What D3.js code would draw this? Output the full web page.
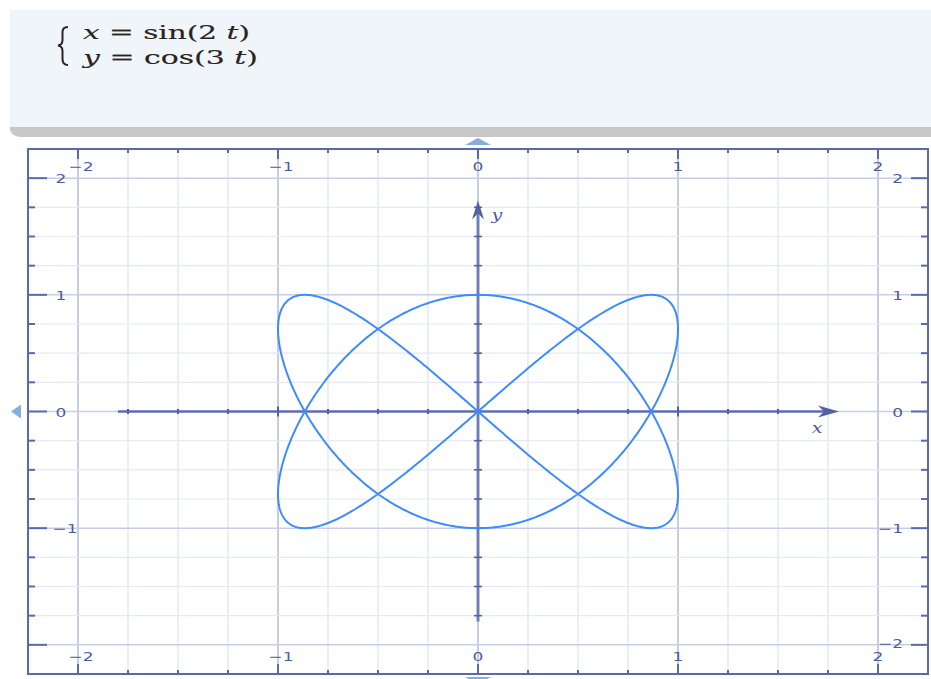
<!DOCTYPE html>
<html>
<head>
<meta charset="utf-8">
<script src="https://cdn.jsdelivr.net/npm/d3@7"></script>
<style>
  html, body { margin: 0; padding: 0; background: #ffffff; }
  svg { display: block; }
</style>
</head>
<body>
<svg id="chart" width="931" height="679"></svg>
<script>
// Parametric curve: x = sin(xFreq t), y = cos(yFreq t)
const xFreq = 2;
const yFreq = 3;
const sampleCount = 1200;

// Axis ranges and tick labels
const xDomain = [-2.25, 2.25];
const yDomain = [-2.25, 2.25];
const majorTicks = [-2, -1, 0, 1, 2];
const tickLabels = ["\u22122", "\u22121", "0", "1", "2"];
const gridStep = 0.25;
const axisExtent = 1.8;

// Display is horizontally stretched, text included
const stretchX = 1.36;

const svg = d3.select("#chart");

// Header panel with the equations
svg.append("rect").attr("x", 10).attr("y", 10).attr("width", 921).attr("height", 120)
  .attr("fill", "#f0f5fa");
svg.append("path")
  .attr("d", "M10,127 L931,127 L931,137 L22,137 Q12,137 10,130 Z")
  .attr("fill", "#c8c8c8");

const eqColor = "#2a2320";
svg.append("path")
  .attr("d", "M68,27 Q62.5,27 62.5,32 L62.5,40 Q62.5,45 58,45.5 Q62.5,46 62.5,51 L62.5,59 Q62.5,65 68,65")
  .attr("fill", "none").attr("stroke", eqColor).attr("stroke-width", 2);

// Each equation line: pieces [text, italic], spread across [left, right]
function equation(baseline, left, right, pieces) {
  const t = svg.append("text")
    .attr("x", left).attr("y", baseline)
    .attr("font-family", "'DejaVu Serif', 'Liberation Serif', serif")
    .attr("font-size", 19)
    .attr("fill", eqColor)
    .attr("stroke", eqColor).attr("stroke-width", 0.15)
    .attr("textLength", right - left)
    .attr("lengthAdjust", "spacingAndGlyphs");
  pieces.forEach(p => t.append("tspan").attr("font-style", p[1] ? "italic" : "normal").text(p[0]));
}
equation(39, 83, 250, [["x", true], [" = sin(" + xFreq + " ", false], ["t", true], [")", false]]);
equation(64, 83, 258, [["y", true], [" = cos(" + yFreq + " ", false], ["t", true], [")", false]]);

// Plot frame
const frame = { left: 28, right: 928, top: 149, bottom: 674 };
const x = d3.scaleLinear().domain(xDomain).range([frame.left, frame.right]);
const y = d3.scaleLinear().domain(yDomain).range([frame.bottom, frame.top]);

const gridVals = d3.range(-2.25, 2.2501, gridStep).map(v => Math.round(v * 100) / 100);
const isMajor = v => Math.abs(v - Math.round(v)) < 1e-9;

const grid = svg.append("g");
grid.selectAll("line.v").data(gridVals.filter(v => v > xDomain[0] && v < xDomain[1]))
  .join("line")
  .attr("x1", d => x(d)).attr("x2", d => x(d))
  .attr("y1", frame.top).attr("y2", frame.bottom)
  .attr("stroke", d => isMajor(d) ? "#c9cde3" : "#e7e9f2")
  .attr("stroke-width", d => isMajor(d) ? 2 : 1.5);
grid.selectAll("line.h").data(gridVals.filter(v => v > yDomain[0] && v < yDomain[1]))
  .join("line")
  .attr("y1", d => y(d)).attr("y2", d => y(d))
  .attr("x1", frame.left).attr("x2", frame.right)
  .attr("stroke", d => isMajor(d) ? "#c9cde3" : "#e7e9f2")
  .attr("stroke-width", d => isMajor(d) ? 1.5 : 1.2);

const frameColor = "#5a69ab";
const labelColor = "#4b5b9e";
const inner = gridVals.filter(v => v > -2.25 && v < 2.25);

// Frame ticks on all four sides
const ticks = svg.append("g").attr("stroke", frameColor).attr("stroke-width", 2);
ticks.selectAll("line.t").data(inner).join("line")
  .attr("x1", d => x(d)).attr("x2", d => x(d))
  .attr("y1", frame.top).attr("y2", d => frame.top + (isMajor(d) ? 10 : 4));
ticks.selectAll("line.b").data(inner).join("line")
  .attr("x1", d => x(d)).attr("x2", d => x(d))
  .attr("y1", frame.bottom).attr("y2", d => frame.bottom - (isMajor(d) ? 10 : 4));
ticks.selectAll("line.l").data(inner).join("line")
  .attr("y1", d => y(d)).attr("y2", d => y(d))
  .attr("x1", frame.left).attr("x2", d => frame.left + (isMajor(d) ? 19 : 7));
ticks.selectAll("line.r").data(inner).join("line")
  .attr("y1", d => y(d)).attr("y2", d => y(d))
  .attr("x1", frame.right).attr("x2", d => frame.right - (isMajor(d) ? 17 : 7));

svg.append("rect")
  .attr("x", frame.left).attr("y", frame.top)
  .attr("width", frame.right - frame.left).attr("height", frame.bottom - frame.top)
  .attr("fill", "none").attr("stroke", frameColor).attr("stroke-width", 2);

// Frame tick labels, stretched like the rest of the display
const labels = svg.append("g")
  .attr("font-family", "'DejaVu Sans', Verdana, sans-serif")
  .attr("font-size", 12.5).attr("fill", labelColor);
function stretchedLabel(px, py, anchor, txt) {
  labels.append("text")
    .attr("transform", `translate(${px},${py}) scale(${stretchX},1)`)
    .attr("text-anchor", anchor).text(txt);
}
majorTicks.forEach((v, i) => {
  const shift = v < 0 ? 3 : 0;
  stretchedLabel(x(v) + shift, frame.top + 22, "middle", tickLabels[i]);
  stretchedLabel(x(v) + shift, frame.bottom - 13, "middle", tickLabels[i]);
  // the bottom-left corner keeps only the bottom-edge label
  if (v > yDomain[0] + 0.5) {
    stretchedLabel(frame.left + 33 + (v < 0 ? 4 : 0), y(v) + 5, "middle", tickLabels[i]);
  }
  stretchedLabel(frame.right - 25, y(v) + (v === majorTicks[0] ? 3 : 5), "end", tickLabels[i]);
});

// Scroll markers around the frame
const marker = "#88aedb";
svg.append("path").attr("fill", marker)
  .attr("d", `M${x(0) - 13},145 L${x(0)},138 L${x(0) + 13},145 Z`);
svg.append("path").attr("fill", marker)
  .attr("d", `M${x(0) - 13},677 L${x(0) + 13},677 L${x(0)},684 Z`);
svg.append("path").attr("fill", marker)
  .attr("d", `M11,${y(0)} L21,${y(0) - 7} L21,${y(0) + 7} Z`);

// Coordinate axes with arrows
const axisColor = "#5262a6";
const axes = svg.append("g");
axes.append("line")
  .attr("x1", x(-axisExtent)).attr("x2", x(axisExtent) - 6)
  .attr("y1", y(0)).attr("y2", y(0))
  .attr("stroke", axisColor).attr("stroke-width", 2.4).attr("stroke-opacity", 0.9);
axes.append("line")
  .attr("x1", x(0)).attr("x2", x(0))
  .attr("y1", y(-axisExtent)).attr("y2", y(axisExtent) + 6)
  .attr("stroke", axisColor).attr("stroke-width", 3).attr("stroke-opacity", 0.75);

const axisTicks = d3.range(-1.75, 1.7501, 0.25).filter(v => Math.abs(v) > 1e-9);
axes.selectAll("line.xt").data(axisTicks).join("line")
  .attr("x1", d => x(d)).attr("x2", d => x(d))
  .attr("y1", d => y(0) - (isMajor(d) ? 5 : 2.5)).attr("y2", d => y(0) + (isMajor(d) ? 5 : 2.5))
  .attr("stroke", axisColor).attr("stroke-width", 2);
axes.selectAll("line.yt").data(axisTicks).join("line")
  .attr("y1", d => y(d)).attr("y2", d => y(d))
  .attr("x1", d => x(0) - (isMajor(d) ? 6 : 4)).attr("x2", d => x(0) + (isMajor(d) ? 6 : 4))
  .attr("stroke", axisColor).attr("stroke-width", 1.6);

const xt = x(axisExtent) + 1, yt = y(axisExtent) - 1;
axes.append("path").attr("fill", axisColor)
  .attr("d", `M${xt},${y(0)} L${xt - 21},${y(0) - 6} L${xt - 15},${y(0)} L${xt - 21},${y(0) + 6} Z`);
axes.append("path").attr("fill", axisColor)
  .attr("d", `M${x(0)},${yt} L${x(0) - 6},${yt + 19} L${x(0)},${yt + 13} L${x(0) + 6},${yt + 19} Z`);

axes.append("text")
  .attr("transform", `translate(${xt - 22},${y(0) + 21}) scale(${stretchX},1)`)
  .attr("font-family", "'DejaVu Serif', serif").attr("font-style", "italic")
  .attr("font-size", 14).attr("fill", labelColor).attr("text-anchor", "middle").text("x");
axes.append("text")
  .attr("transform", `translate(${x(0) + 19},${yt + 19}) scale(${stretchX},1)`)
  .attr("font-family", "'DejaVu Serif', serif").attr("font-style", "italic")
  .attr("font-size", 14).attr("fill", labelColor).attr("text-anchor", "middle").text("y");

// The parametric curve
const ts = d3.range(sampleCount + 1).map(i => (2 * Math.PI * i) / sampleCount);
const pts = ts.map(t => [Math.sin(xFreq * t), Math.cos(yFreq * t)]);
svg.append("path")
  .datum(pts)
  .attr("fill", "none")
  .attr("stroke", "#3d8cff")
  .attr("stroke-width", 2)
  .attr("stroke-linejoin", "round")
  .attr("d", d3.line().x(d => x(d[0])).y(d => y(d[1])));
</script>
</body>
</html>
